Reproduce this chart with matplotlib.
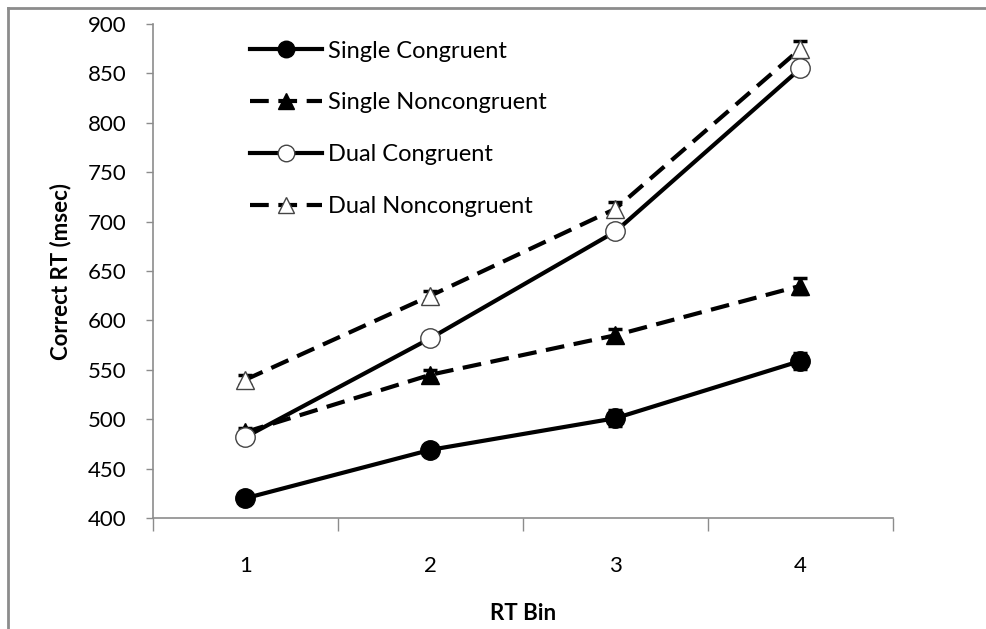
import matplotlib
matplotlib.use('Agg')
import matplotlib.pyplot as plt
from matplotlib.lines import Line2D

plt.rcParams['font.family'] = ['Lato', 'DejaVu Sans']
plt.rcParams['font.size'] = 16

bins = [1, 2, 3, 4]
single_cong = [420, 469, 501, 559]
single_cong_err = [3, 3, 8, 8]
single_noncong = [487, 545, 585, 635]
single_noncong_err = [4, 5, 6, 8]
dual_cong = [482, 582, 690, 855]
dual_cong_err = [4, 4, 5, 6]
dual_noncong = [540, 625, 713, 875]
dual_noncong_err = [5, 5, 7, 8]

fig = plt.figure(figsize=(9.87, 6.29), dpi=100)
# outer chart border, only top and left edges are visible in the original
fx, fy = 8/987, 1 - 8/629
fig.add_artist(Line2D([fx, 1.0], [fy, fy], transform=fig.transFigure, color='#8c8c8c', lw=2))
fig.add_artist(Line2D([fx, fx], [0, fy], transform=fig.transFigure, color='#8c8c8c', lw=2))

ax = fig.add_axes([153/987, 111/629, 740/987, 494/629])

dash = (4.5, 2.3)
series = [
    (single_cong, single_cong_err, 'o', 'black', '-', 'Single Congruent'),
    (single_noncong, single_noncong_err, '^', 'black', '--', 'Single Noncongruent'),
    (dual_cong, dual_cong_err, 'o', 'white', '-', 'Dual Congruent'),
    (dual_noncong, dual_noncong_err, '^', 'white', '--', 'Dual Noncongruent'),
]
for vals, err, mk, fc, ls, lab in series:
    ax.errorbar(bins, vals, yerr=err, fmt='none', ecolor='black', elinewidth=1.5,
                capsize=5, capthick=2.5, zorder=2)
    line, = ax.plot(bins, vals, color='black', lw=3, linestyle=ls, marker=mk,
                    markersize=14 if mk == 'o' else 13, markerfacecolor=fc,
                    markeredgecolor='black' if fc == 'black' else '#444444',
                    markeredgewidth=1, label=lab, zorder=3)
    if ls == '--':
        line.set_dashes(dash)

ax.set_xlim(0.5, 4.5)
ax.set_ylim(400, 900)
ax.set_yticks(range(400, 901, 50))
ax.set_xticks(bins)
ax.set_xticks([0.5, 1.5, 2.5, 3.5, 4.5], minor=True)
ax.tick_params(axis='x', which='major', length=0, pad=27)
ax.tick_params(axis='x', which='minor', length=9, color='#8c8c8c', width=1)
ax.tick_params(axis='y', length=5, color='#8c8c8c', width=1, pad=14)
for s in ['top', 'right']:
    ax.spines[s].set_visible(False)
for s in ['left', 'bottom']:
    ax.spines[s].set_color('#8c8c8c')
    ax.spines[s].set_linewidth(1.2)

ax.set_xlabel('RT Bin', fontweight='bold', labelpad=20)
ax.set_ylabel('Correct RT (msec)', fontweight='bold', labelpad=12)

ax.legend(loc='upper left', bbox_to_anchor=(0.115, 0.99), frameon=False,
          handlelength=3.05, labelspacing=1.3, borderpad=0, handletextpad=0.25,
          fontsize=17, markerscale=0.85)

fig.savefig('out.png', dpi=100)
